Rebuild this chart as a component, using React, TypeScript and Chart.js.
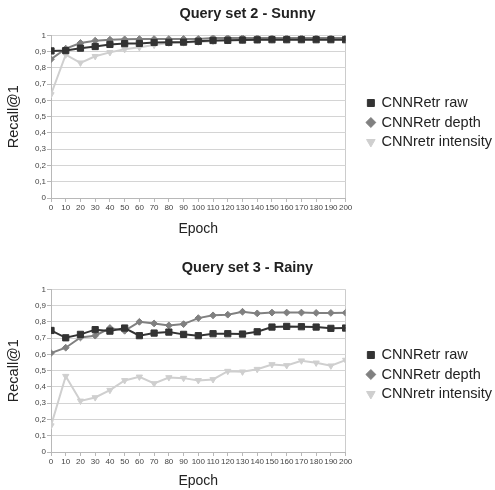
import React, { useEffect, useRef } from "react";
import { Chart, registerables } from "chart.js";

Chart.register(...registerables);

const epochs = [0, 10, 20, 30, 40, 50, 60, 70, 80, 90, 100, 110, 120, 130, 140, 150, 160, 170, 180, 190, 200];
const seriesNames = ["CNNRetr raw", "CNNRetr depth", "CNNretr intensity"];

const sunnyRaw = [0.904, 0.906, 0.921, 0.931, 0.944, 0.949, 0.95, 0.956, 0.957, 0.958, 0.963, 0.968, 0.969, 0.971, 0.972, 0.973, 0.973, 0.973, 0.973, 0.973, 0.973];
const sunnyDepth = [0.853, 0.918, 0.953, 0.967, 0.973, 0.975, 0.977, 0.977, 0.977, 0.978, 0.978, 0.984, 0.984, 0.984, 0.984, 0.984, 0.984, 0.984, 0.984, 0.984, 0.984];
const sunnyIntensity = [0.636, 0.881, 0.831, 0.871, 0.895, 0.914, 0.926, 0.94, 0.953, 0.955, 0.959, 0.963, 0.968, 0.971, 0.973, 0.973, 0.974, 0.974, 0.974, 0.974, 0.974];

const rainyRaw = [0.747, 0.702, 0.723, 0.752, 0.743, 0.762, 0.715, 0.731, 0.737, 0.723, 0.715, 0.727, 0.727, 0.725, 0.739, 0.768, 0.772, 0.77, 0.768, 0.76, 0.762];
const rainyDepth = [0.608, 0.641, 0.704, 0.715, 0.762, 0.745, 0.8, 0.79, 0.778, 0.786, 0.823, 0.84, 0.844, 0.862, 0.852, 0.857, 0.857, 0.857, 0.855, 0.855, 0.856];
const rainyIntensity = [0.162, 0.466, 0.314, 0.335, 0.38, 0.44, 0.462, 0.421, 0.458, 0.454, 0.44, 0.446, 0.497, 0.493, 0.509, 0.538, 0.532, 0.561, 0.548, 0.53, 0.565];

const FONT = "'Liberation Sans', Arial, Helvetica, sans-serif";

function makeConfig(title: string, raw: number[], depth: number[], intensity: number[], padTop: number, titleTop: number, xHeight: number) {
  const mk = (label: string, vals: number[], color: string, style: string, radius: number, rot: number) => ({
    label,
    data: epochs.map((e, i) => ({ x: e, y: vals[i] })),
    borderColor: color,
    backgroundColor: color,
    borderWidth: 2,
    pointStyle: style,
    pointRadius: radius,
    pointRotation: rot,
    pointBorderWidth: 1,
    pointBackgroundColor: color,
    pointBorderColor: color,
    tension: 0,
  });
  return {
    type: "line",
    data: {
      datasets: [
        mk(seriesNames[0], raw, "#333333", "rect", 4.4, 0),
        mk(seriesNames[1], depth, "#808080", "rectRot", 3.4, 0),
        mk(seriesNames[2], intensity, "#cfcfcf", "triangle", 3.6, 180),
      ],
    },
    options: {
      responsive: false,
      animation: false,
      layout: { padding: { left: -7, right: -7, top: padTop, bottom: 0 } },
      plugins: {
        title: {
          display: true,
          text: title,
          color: "#222222",
          font: { family: FONT, size: 14.5, weight: "bold" },
          padding: { top: titleTop, bottom: 12.6 },
        },
        legend: {
          position: "right",
          maxWidth: 200,
          labels: {
            usePointStyle: true,
            boxWidth: 7,
            boxHeight: 7,
            color: "#222222",
            font: { family: FONT, size: 14.5 },
            padding: 5,
          },
        },
        tooltip: { enabled: false },
      },
      scales: {
        x: {
          type: "linear",
          min: 0,
          max: 200,
          afterFit: (s: any) => {
            s.height = xHeight;
          },
          ticks: {
            stepSize: 10,
            autoSkip: false,
            maxRotation: 0,
            minRotation: 0,
            color: "#444444",
            font: { family: FONT, size: 8 },
            padding: 0.5,
          },
          grid: {
            color: (ctx: any) => (ctx.index === 20 ? "#cccccc" : "rgba(0,0,0,0)"),
            tickColor: "#b8b8b8",
            tickLength: 4,
          },
          border: { color: "#b8b8b8" },
          title: {
            display: true,
            text: "Epoch",
            color: "#222222",
            font: { family: FONT, size: 14 },
            padding: { top: 0, bottom: xHeight > 42 ? 7.6 : 0 },
          },
        },
        y: {
          min: 0,
          max: 1,
          afterFit: (s: any) => {
            s.width = 58;
          },
          ticks: {
            stepSize: 0.1,
            color: "#444444",
            font: { family: FONT, size: 8 },
            padding: 1,
            callback: (v: any) => String(Math.round(Number(v) * 10) / 10).replace(".", ","),
          },
          grid: { color: "#d4d4d4", tickColor: "#b8b8b8", tickLength: 4 },
          border: { color: "#b8b8b8" },
          title: {
            display: true,
            text: "Recall@1",
            color: "#222222",
            font: { family: FONT, size: 14.5 },
            padding: { top: 12.5, bottom: 0 },
          },
        },
        gap: {
          type: "linear",
          position: "right",
          min: 0,
          max: 1,
          afterFit: (s: any) => {
            s.width = 16.75;
          },
          ticks: { display: false },
          grid: { display: false },
          border: { display: false },
        },
      },
    },
  };
}

function LineChart(props: { title: string; raw: number[]; depth: number[]; intensity: number[]; padTop: number; titleTop: number; xHeight: number; height: number }) {
  const ref = useRef<HTMLCanvasElement | null>(null);
  useEffect(() => {
    if (!ref.current) return;
    const chart = new Chart(ref.current, makeConfig(props.title, props.raw, props.depth, props.intensity, props.padTop, props.titleTop, props.xHeight) as any);
    return () => chart.destroy();
  }, []);
  return <canvas ref={ref} width={495} height={props.height} style={{ display: "block", width: 495, height: props.height }} />;
}

export default function App() {
  return (
    <div style={{ position: "absolute", left: 0, top: 0, width: 495, height: 490, background: "#ffffff" }}>
      <LineChart title="Query set 2 - Sunny" raw={sunnyRaw} depth={sunnyDepth} intensity={sunnyIntensity} padTop={0} titleTop={5.3} xHeight={47} height={245} />
      <LineChart title="Query set 3 - Rainy" raw={rainyRaw} depth={rainyDepth} intensity={rainyIntensity} padTop={14} titleTop={0.3} xHeight={38} height={245} />
    </div>
  );
}
